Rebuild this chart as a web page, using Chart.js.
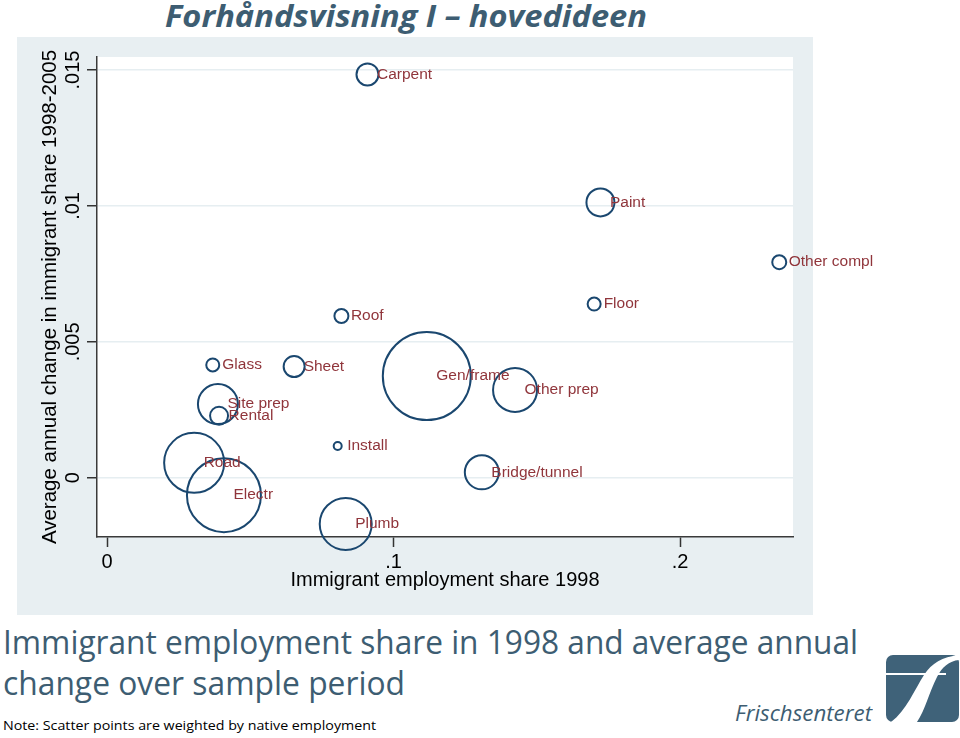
<!DOCTYPE html>
<html>
<head>
<meta charset="utf-8">
<script src="https://cdn.jsdelivr.net/npm/chart.js@4.4.0/dist/chart.umd.min.js"></script>
<style>
html, body { margin: 0; padding: 0; background: #fff; width: 960px; height: 738px; overflow: hidden; position: relative; font-family: "Open Sans", sans-serif; }
.txt { position: absolute; white-space: nowrap; line-height: 1; color: #3d5d72; transform-origin: 0 0; }
#wrap { position: absolute; left: 0; top: 37px; width: 960px; height: 578px; }
#logo { position: absolute; left: 886px; top: 655px; }
</style>
</head>
<body>
<div class="txt" data-fit="482" style="left:165px; top:0px; font-size:31px; font-weight:700; font-style:italic;">Forhåndsvisning I – hovedideen</div>
<div id="wrap"><canvas id="scatter" width="960" height="578"></canvas></div>
<div class="txt" data-fit="855" style="left:3px; top:625.6px; font-size:32px;">Immigrant employment share in 1998 and average annual</div>
<div class="txt" data-fit="402" style="left:3px; top:666.6px; font-size:32px;">change over sample period</div>
<div class="txt" data-fit="373" style="left:3px; top:718.7px; font-size:13.5px; color:#000;">Note: Scatter points are weighted by native employment</div>
<div class="txt" data-fit="137" style="left:735px; top:700.5px; font-size:22px; font-style:italic;">Frischsenteret</div>
<svg id="logo" width="73" height="67" viewBox="0 0 73 67">
  <rect x="0" y="0" width="73" height="67" rx="7" fill="#3f6279"/>
  <path d="M5,67 C20,56 29,34 38,20 C46,8 56,2 73,0 L73,5 C63,6 56,12 51,22 C43,38 39,55 31,67 Z" fill="#fff"/>
  <rect x="0" y="18" width="60" height="2" fill="#fff"/>
</svg>
<script>
// industries, 1998 immigrant share, yearly change 1998-2005, marker size (native employment)
const sectors = ['Carpent', 'Paint', 'Other compl', 'Floor', 'Roof', 'Glass', 'Sheet', 'Gen/frame',
  'Other prep', 'Site prep', 'Rental', 'Install', 'Road', 'Bridge/tunnel', 'Electr', 'Plumb'];
const empShare = [0.0909, 0.1722, 0.2346, 0.1700, 0.0818, 0.0369, 0.0653, 0.1116,
  0.1424, 0.0387, 0.0391, 0.0805, 0.0304, 0.1308, 0.0408, 0.0833];
const shareChange = [0.01484, 0.01013, 0.00793, 0.00639, 0.00595, 0.00415, 0.00409, 0.00374,
  0.00323, 0.00271, 0.00228, 0.00117, 0.00055, 0.00020, -0.00064, -0.00170];
const bubbleSize = [11, 14, 7, 6.5, 7, 6.5, 10.5, 44, 22, 20, 9, 4, 30, 17, 37, 26];

const xTicks = [0, 0.1, 0.2];
const xTickLabels = ['0', '.1', '.2'];
const yTicks = [0, 0.005, 0.01, 0.015];
const yTickLabels = ['0', '.005', '.01', '.015'];

// squeeze slide texts to the width they have in the original
document.querySelectorAll('[data-fit]').forEach(function(el) {
    const w = el.getBoundingClientRect().width;
    el.style.transform = 'scaleX(' + (parseFloat(el.dataset.fit) / w) + ')';
});

Chart.defaults.font.family = '"Liberation Sans", Arial, sans-serif';

const bgPlugin = {
    id: 'bg',
    beforeDraw: function(chart) {
        const ctx = chart.ctx, a = chart.chartArea;
        ctx.save();
        ctx.fillStyle = '#e8eff2';
        ctx.fillRect(17, 0, 796, chart.height);
        ctx.fillStyle = '#fff';
        ctx.fillRect(a.left, a.top, a.right - a.left, a.bottom - a.top);
        ctx.restore();
    }
};

const labelPlugin = {
    id: 'pointLabels',
    afterDatasetsDraw: function(chart) {
        const ctx = chart.ctx;
        const pts = chart.getDatasetMeta(0).data;
        ctx.save();
        ctx.font = '15.5px "Liberation Sans", Arial, sans-serif';
        ctx.fillStyle = '#90353b';
        ctx.textBaseline = 'middle';
        ctx.textAlign = 'left';
        pts.forEach(function(p, i) {
            ctx.fillText(sectors[i], p.x + 9.5, p.y);
        });
        ctx.restore();
    }
};

// y tick labels are vertical in the original
const yLabelPlugin = {
    id: 'yLabels',
    afterDraw: function(chart) {
        const ctx = chart.ctx, y = chart.scales.y;
        ctx.save();
        ctx.font = '20px "Liberation Sans", Arial, sans-serif';
        ctx.fillStyle = '#000';
        ctx.textAlign = 'center';
        ctx.textBaseline = 'middle';
        yTicks.forEach(function(v, i) {
            ctx.save();
            ctx.translate(chart.chartArea.left - 24, y.getPixelForValue(v));
            ctx.rotate(-Math.PI / 2);
            ctx.fillText(yTickLabels[i], 0, 0);
            ctx.restore();
        });
        ctx.restore();
    }
};

const ctx = document.getElementById('scatter').getContext('2d');
const scatterChart = new Chart(ctx, {
    type: 'bubble',
    data: {
        datasets: [{
            data: empShare.map(function(x, i) { return { x: x, y: shareChange[i], r: bubbleSize[i] }; }),
            backgroundColor: 'rgba(0,0,0,0)',
            borderColor: '#1a476f',
            borderWidth: 2,
            hoverRadius: 0,
            hoverBorderWidth: 2,
            clip: false
        }]
    },
    options: {
        responsive: false,
        animation: false,
        devicePixelRatio: 1,
        layout: { autoPadding: false, padding: { left: 30, right: 167, top: 20, bottom: 14 } },
        plugins: { legend: { display: false }, tooltip: { enabled: false } },
        events: [],
        scales: {
            x: {
                type: 'linear',
                min: -0.0035,
                max: 0.2394,
                afterBuildTicks: function(s) { s.ticks = xTicks.map(function(v) { return { value: v }; }); },
                afterFit: function(s) { s.height = 64; },
                ticks: {
                    font: { size: 20 },
                    color: '#000',
                    padding: 3,
                    maxRotation: 0,
                    autoSkip: false,
                    callback: function(v, i) { return xTickLabels[i]; }
                },
                grid: { drawOnChartArea: false, drawTicks: true, tickLength: 10, tickColor: '#333', tickWidth: 1.5 },
                border: { display: true, color: '#3a3a3a', width: 1.5 },
                title: {
                    display: true,
                    text: 'Immigrant employment share 1998',
                    font: { size: 20 },
                    color: '#000',
                    padding: { top: 0, bottom: 8.7 }
                }
            },
            y: {
                type: 'linear',
                min: -0.00218,
                max: 0.01548,
                afterBuildTicks: function(s) { s.ticks = yTicks.map(function(v) { return { value: v }; }); },
                afterFit: function(s) { s.width = 67; },
                ticks: { display: false },
                grid: { color: '#e6eef1', lineWidth: 1.5, drawTicks: true, tickLength: 10, tickColor: '#333', tickWidth: 1.5 },
                border: { display: true, color: '#3a3a3a', width: 1.5 },
                title: {
                    display: true,
                    text: 'Average annual change in immigrant share 1998-2005',
                    font: { size: 20.5 },
                    color: '#000',
                    padding: { top: 8, bottom: 0 }
                }
            }
        }
    },
    plugins: [bgPlugin, labelPlugin, yLabelPlugin]
});
</script>
</body>
</html>
